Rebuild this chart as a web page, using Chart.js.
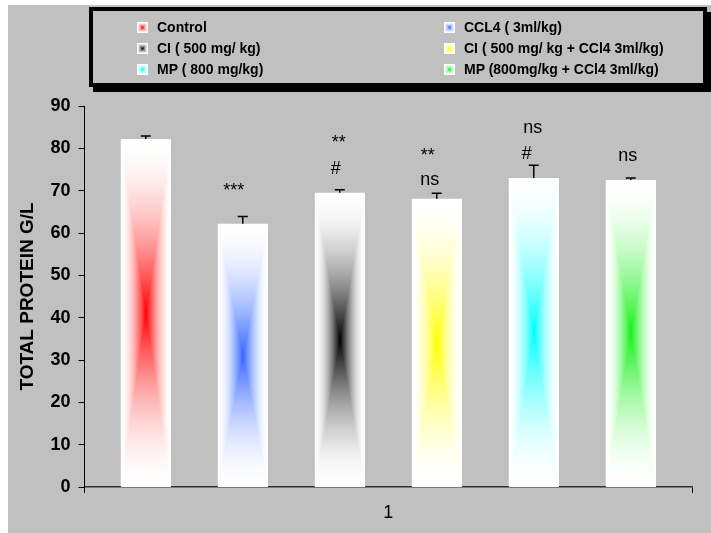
<!DOCTYPE html>
<html lang="en">
<head>
    <meta charset="UTF-8">
    <title>Total Protein</title>
    <script src="https://cdn.jsdelivr.net/npm/chart.js"></script>
    <style>
        body {
            margin: 0;
            background: #fff;
            font-family: "Liberation Sans", Arial, sans-serif;
        }
        #panel {
            position: absolute;
            left: 8px;
            top: 5px;
            width: 703px;
            height: 528px;
            background: #c0c0c0;
        }
        #legendBox {
            position: absolute;
            left: 89px;
            top: 7px;
            width: 618px;
            height: 80px;
            box-sizing: border-box;
            border: 4px solid #000;
            box-shadow: 4px 5px 0 #000;
            background: #c0c0c0;
            z-index: 2;
        }
        .item {
            position: absolute;
            height: 21px;
            line-height: 21px;
            font-weight: bold;
            font-size: 14px;
            color: #000;
            white-space: nowrap;
        }
        .swatch {
            display: inline-block;
            width: 11px;
            height: 11px;
            margin-right: 9px;
            vertical-align: -1px;
        }
    </style>
</head>
<body>

<div id="panel">
    <canvas id="proteinChart"></canvas>
</div>
<div id="legendBox"></div>

<script>
    // Groups, in bar order
    const groups = [
        'Control',
        'CCL4 ( 3ml/kg)',
        'CI ( 500 mg/ kg)',
        'CI ( 500 mg/ kg + CCl4 3ml/kg)',
        'MP ( 800 mg/kg)',
        'MP (800mg/kg + CCl4 3ml/kg)'
    ];
    const categories = ['1'];
    const proteinMeans = [82.2, 62.2, 69.5, 68.1, 73.0, 72.5];
    const proteinErrors = [0.7, 1.7, 0.7, 1.3, 3.0, 0.5];
    const groupColors = [[255, 0, 0], [51, 102, 255], [0, 0, 0], [255, 255, 0], [0, 255, 255], [20, 240, 20]];
    const yTicks = [0, 10, 20, 30, 40, 50, 60, 70, 80, 90];

    // significance marks: dataset index, text, level (axis units), x shift (px)
    const sigMarks = [
        { ds: 1, text: '***', level: 68.8, dx: -9 },
        { ds: 2, text: '**', level: 80.1, dx: -1 },
        { ds: 2, text: '#', level: 73.9, dx: -4 },
        { ds: 3, text: '**', level: 77.1, dx: -9 },
        { ds: 3, text: 'ns', level: 71.4, dx: -7 },
        { ds: 4, text: 'ns', level: 83.7, dx: -1 },
        { ds: 4, text: '#', level: 77.5, dx: -7 },
        { ds: 5, text: 'ns', level: 77.1, dx: -3 }
    ];

    const FONT = '"Liberation Sans", Arial, sans-serif';

    // rectangular "from centre" fill: colour in the middle fading to white at the edges
    function makeFill(w, h, rgb) {
        const c = document.createElement('canvas');
        c.width = w;
        c.height = h;
        const g = c.getContext('2d');
        const img = g.createImageData(w, h);
        for (let py = 0; py < h; py++) {
            for (let px = 0; px < w; px++) {
                const dx = Math.abs(px + 0.5 - w / 2) / (w / 2);
                const dy = Math.abs(py + 0.5 - h / 2) / (h / 2);
                const f = Math.pow(Math.max(0, 1 - Math.max(dx, dy)), 1.8);
                const k = (py * w + px) * 4;
                img.data[k] = 255 + (rgb[0] - 255) * f;
                img.data[k + 1] = 255 + (rgb[1] - 255) * f;
                img.data[k + 2] = 255 + (rgb[2] - 255) * f;
                img.data[k + 3] = 255;
            }
        }
        g.putImageData(img, 0, 0);
        return c;
    }

    // legend, two columns
    const legendBox = document.getElementById('legendBox');
    groups.forEach((name, i) => {
        const col = i % 2, row = Math.floor(i / 2);
        const item = document.createElement('div');
        item.className = 'item';
        item.style.left = (44 + col * 307) + 'px';
        item.style.top = (6 + row * 21) + 'px';
        const sw = document.createElement('span');
        sw.className = 'swatch';
        sw.style.backgroundImage = 'url(' + makeFill(11, 11, groupColors[i]).toDataURL() + ')';
        item.appendChild(sw);
        item.appendChild(document.createTextNode(name));
        legendBox.appendChild(item);
    });

    const barDecor = {
        id: 'barDecor',
        afterDatasetsDraw(chart) {
            const ctx = chart.ctx;
            const yScale = chart.scales.y;
            ctx.save();
            chart.data.datasets.forEach((ds, i) => {
                const bar = chart.getDatasetMeta(i).data[0];
                const { x, y, base, width } = bar.getProps(['x', 'y', 'base', 'width'], true);
                const left = Math.round(x - width / 2);
                const top = Math.round(y);
                const w = Math.round(width);
                const h = Math.round(base) - top;
                ctx.drawImage(makeFill(w, h, groupColors[i]), left, top);

                // upper error bar
                const yErr = yScale.getPixelForValue(proteinMeans[i] + proteinErrors[i]);
                ctx.strokeStyle = '#000';
                ctx.lineWidth = 1.5;
                ctx.beginPath();
                ctx.moveTo(x, y);
                ctx.lineTo(x, yErr);
                ctx.moveTo(x - 5, yErr);
                ctx.lineTo(x + 5, yErr);
                ctx.stroke();
            });

            ctx.fillStyle = '#000';
            ctx.font = '18px ' + FONT;
            ctx.textAlign = 'center';
            ctx.textBaseline = 'alphabetic';
            sigMarks.forEach(m => {
                const bar = chart.getDatasetMeta(m.ds).data[0];
                ctx.fillText(m.text, bar.x + m.dx, yScale.getPixelForValue(m.level));
            });
            ctx.restore();
        }
    };

    const ctx = document.getElementById('proteinChart').getContext('2d');
    new Chart(ctx, {
        type: 'bar',
        data: {
            labels: categories,
            datasets: groups.map((name, i) => ({
                label: name,
                data: [proteinMeans[i]],
                backgroundColor: '#fff',
                borderWidth: 0,
                categoryPercentage: 0.958,
                barPercentage: 0.515
            }))
        },
        options: {
            responsive: true,
            maintainAspectRatio: false,
            animation: false,
            layout: { padding: { top: 101, right: 19, left: 0, bottom: 0 } },
            plugins: {
                legend: { display: false },
                tooltip: { enabled: false }
            },
            scales: {
                x: {
                    grid: {
                        offset: true,
                        drawOnChartArea: false,
                        drawTicks: true,
                        tickLength: 6,
                        color: '#000'
                    },
                    border: { color: '#303030', width: 1.5 },
                    ticks: {
                        color: '#000',
                        font: { family: FONT, size: 18 },
                        padding: 9
                    },
                    afterFit: s => { s.height = 46; }
                },
                y: {
                    min: 0,
                    max: 90,
                    afterBuildTicks: s => { s.ticks = yTicks.map(v => ({ value: v })); },
                    grid: {
                        drawOnChartArea: false,
                        drawTicks: true,
                        tickLength: 6,
                        color: '#000'
                    },
                    border: { color: '#000', width: 1 },
                    ticks: {
                        color: '#000',
                        font: { family: FONT, size: 18, weight: 'bold' },
                        padding: 8
                    },
                    title: {
                        display: true,
                        text: 'TOTAL PROTEIN G/L',
                        color: '#000',
                        font: { family: FONT, size: 19, weight: 'bold' },
                        padding: { top: 8, bottom: 0 }
                    },
                    afterFit: s => { s.width = 76.5; }
                }
            }
        },
        plugins: [barDecor]
    });
</script>

</body>
</html>
